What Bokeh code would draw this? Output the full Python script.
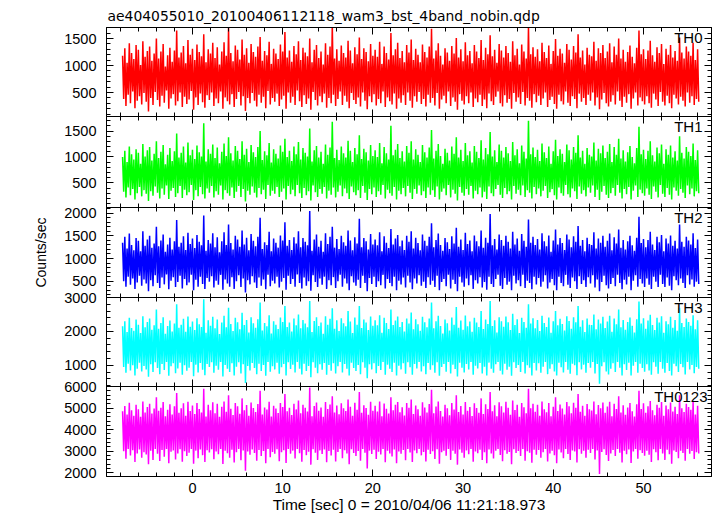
from bokeh.plotting import figure
from bokeh.layouts import column
from bokeh.models import LinearAxis, Label, Range1d, SingleIntervalTicker
from bokeh.embed import file_html
from bokeh.resources import INLINE

# ---------------- data ----------------
T_START = -7.75   # first bin time [sec]
BIN = 0.125       # bin width [sec]

title_text = "ae404055010_20100406112118_wam3_bst_4band_nobin.qdp"
x_label = "Time [sec] 0 = 2010/04/06 11:21:18.973"
y_label = "Counts/sec"
panel_names = ["TH0", "TH1", "TH2", "TH3", "TH0123"]

th0 = [
    1180, 380, 1320, 250, 1050, 460, 1410, 300, 1230, 520, 1120, 210, 1380, 350, 1290, 430,
    1010, 280, 1450, 490, 1160, 330, 1270, 150, 1350, 400, 1090, 270, 1220, 510, 1500, 360,
    1130, 240, 1260, 440, 1400, 310, 980, 540, 1190, 200, 1330, 390, 1070, 470, 1280, 260,
    1650, 340, 1150, 500, 1240, 230, 1360, 420, 1040, 290, 1470, 370, 1200, 530, 1310, 180,
    1100, 410, 1390, 270, 1250, 480, 1170, 320, 1580, 220, 1060, 450, 1300, 360, 1220, 500,
    1420, 250, 1140, 390, 1340, 300, 1020, 520, 1260, 200, 1430, 410, 1180, 340, 1700, 280,
    1230, 470, 1080, 230, 1370, 380, 1290, 510, 1110, 260, 1480, 430, 1200, 160, 1320, 400,
    1050, 300, 1400, 490, 1250, 350, 1160, 240, 1350, 460, 1530, 310, 1090, 420, 1270, 210,
    1190, 530, 1440, 280, 1030, 400, 1310, 330, 1220, 480, 1120, 250, 1390, 370, 1260, 440,
    1620, 200, 1150, 500, 1280, 310, 1070, 420, 1360, 270, 1210, 540, 1450, 340, 1100, 230,
    1330, 450, 1240, 290, 1170, 390, 1500, 180, 1060, 510, 1290, 360, 1380, 260, 1140, 430,
    1260, 320, 1020, 480, 1410, 220, 1200, 400, 1350, 300, 1750, 460, 1130, 250, 1300, 380,
    1090, 520, 1370, 270, 1230, 440, 1150, 330, 1460, 210, 1280, 490, 1040, 360, 1340, 290,
    1210, 410, 1520, 240, 1120, 500, 1320, 350, 1250, 190, 1080, 430, 1400, 320, 1180, 470,
    1290, 260, 1160, 380, 1440, 300, 1030, 520, 1350, 230, 1230, 410, 1110, 340, 1600, 280,
    1190, 480, 1300, 200, 1420, 390, 1140, 310, 1270, 450, 1060, 270, 1380, 500, 1240, 350,
    1480, 220, 1100, 430, 1310, 330, 1200, 510, 1060, 290, 1390, 380, 1250, 240, 1150, 460,
    1350, 310, 1680, 400, 1130, 260, 1280, 490, 1410, 200, 1180, 370, 1020, 440, 1320, 300,
    1240, 520, 1090, 250, 1360, 410, 1220, 330, 1510, 180, 1150, 470, 1300, 350, 1080, 280,
    1430, 430, 1190, 300, 1270, 500, 1040, 230, 1380, 390, 1260, 320, 1140, 460, 1470, 250,
    1100, 370, 1330, 210, 1210, 480, 1560, 340, 1170, 270, 1290, 420, 1050, 520, 1400, 300,
    1280, 240, 1150, 450, 1360, 310, 1230, 380, 1070, 200, 1450, 490, 1190, 330, 1310, 410,
    1020, 290, 1390, 510, 1260, 260, 1130, 400, 1720, 350, 1210, 220, 1340, 470, 1160, 320,
    1300, 440, 1080, 270, 1420, 390, 1250, 500, 1140, 230, 1370, 360, 1030, 420, 1270, 290,
    1490, 200, 1180, 460, 1310, 340, 1220, 280, 1050, 520, 1400, 310, 1290, 250, 1110, 430,
    1360, 380, 1240, 210, 1580, 480, 1150, 330, 1280, 400, 1020, 270, 1330, 460, 1200, 350,
    1170, 500, 1440, 260, 1090, 410, 1320, 190, 1230, 370, 1380, 490, 1140, 300, 1260, 240,
    1410, 330, 1060, 450, 1350, 280, 1200, 520, 1500, 350, 1130, 230, 1290, 420, 1070, 310,
    1250, 470, 1370, 200, 1160, 390, 1040, 500, 1330, 260, 1650, 410, 1210, 340, 1300, 280,
    1120, 430, 1280, 300, 1460, 220, 1190, 480, 1070, 370, 1340, 250, 1230, 510, 1400, 330,
    1030, 260, 1310, 440, 1200, 300, 1380, 210, 1150, 460, 1270, 390, 1090, 280, 1520, 420,
    1240, 350, 1130, 240, 1350, 500, 1260, 310, 1180, 430, 1420, 270, 1100, 380, 1300, 330,
]
th1 = [
    1000, 330, 1120, 220, 900, 410, 1200, 260, 1050, 380, 950, 180, 1150, 300, 1080, 420,
    870, 240, 1250, 360, 1010, 290, 1130, 150, 1190, 340, 930, 250, 1060, 430, 1300, 310,
    980, 200, 1100, 390, 1230, 270, 860, 450, 1040, 190, 1170, 350, 920, 400, 1110, 230,
    1450, 300, 990, 440, 1080, 210, 1200, 370, 890, 260, 1280, 320, 1030, 460, 1140, 170,
    960, 360, 1220, 240, 1090, 420, 1010, 280, 1650, 200, 910, 390, 1150, 310, 1060, 440,
    1240, 220, 980, 340, 1180, 270, 880, 450, 1100, 180, 1260, 360, 1020, 300, 1380, 250,
    1070, 410, 930, 210, 1210, 330, 1120, 440, 960, 230, 1300, 380, 1040, 140, 1160, 350,
    900, 270, 1230, 430, 1090, 310, 1000, 220, 1190, 400, 1500, 280, 940, 370, 1110, 190,
    1030, 460, 1270, 250, 890, 350, 1150, 290, 1060, 420, 970, 230, 1220, 330, 1100, 390,
    1350, 180, 1000, 440, 1120, 280, 920, 370, 1200, 240, 1050, 460, 1290, 300, 950, 210,
    1170, 400, 1080, 260, 1010, 340, 1550, 160, 910, 450, 1130, 320, 1210, 230, 990, 380,
    1100, 290, 870, 420, 1240, 200, 1040, 350, 1180, 270, 1680, 410, 980, 220, 1140, 330,
    940, 450, 1200, 240, 1070, 390, 990, 300, 1310, 190, 1120, 430, 900, 320, 1170, 260,
    1050, 360, 1420, 210, 960, 440, 1160, 310, 1090, 170, 930, 380, 1230, 280, 1020, 410,
    1130, 230, 1000, 340, 1270, 270, 880, 460, 1190, 200, 1070, 370, 950, 300, 1600, 250,
    1030, 420, 1140, 180, 1250, 350, 980, 280, 1110, 400, 910, 240, 1210, 440, 1080, 310,
    1300, 190, 950, 380, 1150, 290, 1040, 450, 900, 260, 1230, 340, 1090, 210, 990, 410,
    1180, 270, 1520, 360, 970, 230, 1120, 430, 1250, 180, 1020, 330, 870, 390, 1160, 260,
    1080, 460, 930, 220, 1200, 370, 1060, 290, 1380, 160, 990, 420, 1140, 310, 920, 250,
    1270, 380, 1030, 270, 1110, 440, 890, 200, 1210, 350, 1100, 280, 980, 410, 1320, 220,
    950, 330, 1170, 190, 1050, 430, 1480, 300, 1010, 240, 1130, 380, 900, 460, 1240, 270,
    1120, 210, 990, 400, 1190, 280, 1070, 340, 920, 180, 1290, 440, 1030, 290, 1150, 370,
    880, 260, 1220, 450, 1100, 230, 970, 360, 1700, 310, 1050, 200, 1180, 420, 1000, 280,
    1140, 390, 920, 240, 1260, 350, 1090, 440, 980, 210, 1200, 320, 870, 380, 1110, 260,
    1330, 180, 1020, 410, 1150, 300, 1060, 250, 900, 460, 1240, 280, 1130, 220, 950, 390,
    1190, 340, 1080, 190, 1420, 430, 990, 290, 1120, 360, 870, 240, 1170, 410, 1040, 310,
    1010, 450, 1280, 230, 930, 370, 1160, 170, 1070, 330, 1220, 440, 980, 270, 1100, 210,
    1250, 300, 900, 400, 1190, 250, 1040, 460, 1350, 310, 970, 200, 1130, 380, 910, 280,
    1090, 420, 1210, 180, 1000, 350, 880, 450, 1170, 230, 1580, 370, 1050, 300, 1140, 250,
    960, 390, 1120, 270, 1300, 190, 1030, 430, 910, 330, 1180, 220, 1070, 460, 1240, 290,
    870, 230, 1150, 400, 1040, 270, 1220, 180, 990, 410, 1110, 350, 930, 250, 1400, 380,
    1080, 310, 970, 210, 1190, 450, 1100, 280, 1020, 390, 1260, 240, 940, 340, 1130, 300,
]
th2 = [
    1350, 500, 1480, 380, 1220, 600, 1550, 420, 1300, 560, 1180, 330, 1450, 470, 1390, 620,
    1160, 400, 1600, 540, 1280, 450, 1420, 280, 1500, 520, 1240, 390, 1330, 630, 1700, 460,
    1270, 350, 1400, 580, 1530, 430, 1150, 650, 1310, 320, 1460, 510, 1200, 590, 1380, 370,
    1850, 480, 1260, 620, 1350, 340, 1490, 550, 1190, 410, 1570, 470, 1320, 640, 1440, 300,
    1230, 530, 1520, 380, 1370, 600, 1290, 440, 1950, 330, 1170, 570, 1410, 490, 1330, 610,
    1560, 360, 1250, 510, 1470, 420, 1140, 640, 1380, 310, 1580, 540, 1300, 450, 1750, 380,
    1340, 590, 1200, 330, 1500, 500, 1420, 630, 1260, 370, 1620, 560, 1310, 250, 1460, 520,
    1180, 430, 1540, 610, 1390, 470, 1270, 350, 1480, 580, 1900, 400, 1210, 540, 1360, 320,
    1300, 640, 1590, 390, 1160, 510, 1440, 450, 1350, 600, 1240, 360, 1510, 490, 1400, 570,
    1800, 310, 1280, 620, 1410, 440, 1190, 550, 1470, 380, 1330, 650, 1600, 460, 1250, 340,
    1450, 580, 1370, 400, 1290, 500, 2050, 290, 1170, 630, 1420, 480, 1530, 370, 1260, 560,
    1390, 420, 1150, 600, 1560, 330, 1320, 520, 1480, 410, 1700, 590, 1240, 350, 1430, 500,
    1210, 640, 1500, 380, 1360, 560, 1280, 450, 1620, 300, 1400, 610, 1180, 470, 1470, 400,
    1330, 530, 1880, 350, 1250, 620, 1450, 460, 1380, 280, 1200, 570, 1540, 440, 1310, 600,
    1420, 370, 1290, 500, 1580, 410, 1160, 640, 1490, 340, 1350, 550, 1230, 460, 1650, 390,
    1310, 600, 1440, 300, 1520, 510, 1270, 430, 1400, 580, 1190, 360, 1500, 620, 1370, 470,
    1600, 320, 1220, 560, 1460, 450, 1340, 630, 1180, 400, 1530, 490, 1390, 350, 1280, 590,
    1480, 420, 1780, 510, 1250, 370, 1410, 620, 1550, 300, 1300, 480, 1170, 550, 1450, 390,
    1360, 640, 1210, 340, 1490, 530, 1330, 440, 1680, 280, 1260, 600, 1420, 470, 1190, 380,
    1570, 560, 1320, 410, 1400, 630, 1160, 330, 1510, 520, 1380, 450, 1270, 590, 1620, 360,
    1240, 480, 1460, 310, 1350, 600, 1980, 440, 1290, 370, 1430, 550, 1200, 640, 1530, 400,
    1410, 330, 1280, 570, 1500, 420, 1370, 490, 1220, 300, 1590, 620, 1310, 450, 1440, 520,
    1170, 390, 1540, 640, 1390, 350, 1260, 510, 1860, 460, 1350, 320, 1480, 600, 1300, 430,
    1430, 570, 1200, 380, 1560, 490, 1380, 630, 1270, 340, 1510, 470, 1150, 550, 1400, 410,
    1640, 300, 1310, 600, 1450, 460, 1340, 390, 1190, 640, 1530, 420, 1420, 350, 1250, 580,
    1490, 500, 1370, 330, 1720, 610, 1280, 440, 1410, 520, 1160, 370, 1460, 590, 1320, 450,
    1300, 630, 1580, 360, 1220, 540, 1440, 280, 1350, 480, 1500, 620, 1260, 410, 1390, 340,
    1550, 440, 1180, 570, 1470, 390, 1330, 640, 1640, 460, 1240, 320, 1410, 530, 1200, 430,
    1380, 600, 1500, 300, 1290, 510, 1170, 630, 1460, 380, 1920, 550, 1340, 450, 1430, 370,
    1250, 560, 1410, 420, 1590, 330, 1310, 600, 1190, 490, 1480, 370, 1360, 640, 1520, 440,
    1160, 370, 1440, 580, 1330, 400, 1510, 300, 1280, 610, 1390, 520, 1220, 410, 1750, 560,
    1370, 460, 1260, 350, 1480, 630, 1400, 430, 1310, 540, 1560, 380, 1230, 490, 1420, 440,
]
th3 = [
    2150, 950, 2300, 780, 1980, 1050, 2400, 850, 2100, 1000, 2020, 700, 2350, 900, 2200, 1080,
    1950, 820, 2450, 980, 2120, 880, 2280, 660, 2380, 1030, 2050, 800, 2180, 1090, 2650, 920,
    2080, 740, 2250, 1040, 2420, 860, 1930, 1100, 2160, 690, 2320, 970, 2000, 1060, 2230, 770,
    2800, 910, 2110, 1080, 2200, 720, 2370, 1000, 1990, 840, 2440, 930, 2140, 1100, 2290, 680,
    2040, 1020, 2390, 790, 2210, 1070, 2130, 870, 2950, 710, 1960, 1040, 2330, 950, 2170, 1090,
    2430, 780, 2090, 990, 2350, 870, 1920, 1100, 2260, 670, 2460, 1010, 2120, 900, 2700, 800,
    2220, 1060, 2010, 700, 2400, 960, 2270, 1090, 2060, 760, 2550, 1030, 2190, 480, 2340, 980,
    1970, 850, 2420, 1070, 2240, 920, 2110, 740, 2360, 1050, 2850, 830, 2030, 1010, 2250, 690,
    2150, 1100, 2480, 810, 1940, 970, 2300, 880, 2200, 1080, 2070, 750, 2410, 940, 2280, 1040,
    2750, 700, 2130, 1090, 2260, 890, 2000, 1020, 2380, 790, 2180, 1100, 2500, 900, 2090, 730,
    2340, 1050, 2230, 830, 2120, 980, 2900, 650, 1980, 1090, 2310, 930, 2420, 770, 2160, 1030,
    2260, 870, 1930, 1070, 2450, 720, 2200, 1010, 2370, 840, 2680, 1060, 2080, 760, 2330, 970,
    2010, 1100, 2390, 790, 2240, 1040, 2150, 900, 2600, 700, 2290, 1080, 1950, 920, 2410, 830,
    2200, 1010, 2750, 740, 2100, 1090, 2350, 930, 2260, 620, 2040, 1030, 2440, 880, 2170, 1060,
    2330, 770, 2180, 980, 2480, 860, 1960, 1100, 2400, 720, 2250, 1020, 2070, 900, 2650, 800,
    2190, 1080, 2320, 700, 2440, 990, 2130, 880, 2280, 1060, 2000, 750, 2380, 1090, 2230, 940,
    2560, 720, 2060, 1040, 2360, 910, 2210, 1100, 2020, 820, 2430, 970, 2270, 740, 2120, 1070,
    2380, 870, 2850, 1000, 2090, 780, 2300, 1090, 2460, 690, 2160, 950, 1940, 1040, 2350, 810,
    2240, 1100, 2030, 760, 2410, 1020, 2200, 890, 2720, 670, 2110, 1080, 2320, 930, 2050, 790,
    2470, 1040, 2150, 880, 2290, 1100, 1990, 720, 2400, 990, 2260, 910, 2130, 1070, 2600, 760,
    2070, 960, 2350, 700, 2220, 1080, 2900, 900, 2160, 780, 2330, 1030, 1970, 1100, 2420, 840,
    2300, 730, 2140, 1050, 2440, 870, 2270, 960, 2040, 690, 2520, 1090, 2190, 920, 2360, 1010,
    1950, 800, 2400, 1100, 2280, 760, 2110, 1000, 2800, 930, 2230, 700, 2390, 1070, 2090, 850,
    2340, 1060, 2010, 780, 2460, 960, 2250, 1100, 2130, 740, 2410, 900, 1960, 1030, 2300, 820,
    2600, 700, 2180, 1080, 2370, 940, 2220, 790, 2030, 1100, 2450, 870, 2310, 750, 2080, 1050,
    2420, 1000, 2270, 710, 2750, 1090, 2140, 880, 2330, 1020, 1980, 780, 2380, 1070, 2200, 930,
    2190, 1100, 2500, 760, 2060, 1040, 2350, 460, 2230, 970, 2430, 1090, 2100, 820, 2290, 730,
    2460, 900, 1990, 1060, 2380, 800, 2210, 1100, 2650, 930, 2120, 700, 2340, 1030, 2050, 860,
    2280, 1080, 2410, 700, 2170, 990, 1970, 1100, 2360, 780, 2880, 1050, 2230, 920, 2390, 810,
    2080, 1030, 2320, 850, 2490, 720, 2190, 1090, 2040, 960, 2400, 750, 2260, 1100, 2450, 900,
    1960, 780, 2300, 1070, 2210, 830, 2430, 700, 2110, 1050, 2340, 970, 2020, 800, 2700, 1040,
    2250, 940, 2130, 730, 2380, 1100, 2280, 880, 2170, 1010, 2480, 770, 2060, 950, 2330, 900,
]
th0123 = [
    4850, 3000, 5100, 2650, 4700, 3100, 5250, 2800, 4900, 3050, 4650, 2500, 5150, 2900, 4950, 3080,
    4600, 2700, 5300, 2950, 4800, 2850, 5050, 2400, 5200, 3020, 4750, 2600, 4980, 3100, 5500, 2880,
    4880, 2550, 5020, 3060, 5280, 2750, 4620, 3100, 4920, 2450, 5180, 2980, 4700, 3040, 5080, 2620,
    5700, 2900, 4780, 3090, 4990, 2520, 5220, 3000, 4640, 2780, 5290, 2930, 4860, 3100, 5120, 2420,
    4720, 3030, 5240, 2680, 4960, 3080, 4800, 2820, 5900, 2500, 4610, 3050, 5160, 2940, 4900, 3090,
    5270, 2630, 4760, 2990, 5200, 2860, 4600, 3100, 5060, 2410, 5300, 3020, 4830, 2910, 5600, 2700,
    4970, 3070, 4680, 2480, 5230, 2960, 5080, 3100, 4740, 2580, 5450, 3040, 4900, 2100, 5140, 2990,
    4650, 2840, 5260, 3080, 5000, 2920, 4820, 2560, 5190, 3060, 5800, 2780, 4700, 3010, 5030, 2450,
    4930, 3100, 5290, 2720, 4610, 2970, 5110, 2880, 4980, 3090, 4770, 2540, 5230, 2950, 5050, 3050,
    5650, 2460, 4850, 3100, 5020, 2890, 4680, 3030, 5200, 2660, 4940, 3100, 5350, 2910, 4760, 2510,
    5150, 3060, 5010, 2820, 4840, 2980, 5950, 2380, 4620, 3090, 5100, 2930, 5260, 2600, 4880, 3040,
    5030, 2870, 4600, 3080, 5280, 2490, 4960, 3010, 5170, 2800, 5550, 3070, 4790, 2530, 5120, 2970,
    4710, 3100, 5220, 2680, 4990, 3050, 4860, 2900, 5400, 2400, 5060, 3090, 4640, 2920, 5250, 2780,
    4920, 3010, 5750, 2560, 4780, 3100, 5130, 2930, 5000, 2200, 4690, 3030, 5290, 2870, 4880, 3070,
    5110, 2640, 4840, 2980, 5300, 2850, 4620, 3100, 5210, 2490, 4970, 3020, 4750, 2900, 5500, 2760,
    4900, 3080, 5150, 2450, 5280, 2990, 4810, 2880, 5040, 3060, 4660, 2580, 5230, 3100, 5010, 2940,
    5400, 2500, 4720, 3040, 5120, 2910, 4950, 3100, 4640, 2810, 5270, 2970, 5030, 2530, 4800, 3070,
    5190, 2870, 5850, 3000, 4760, 2640, 5070, 3090, 5300, 2420, 4870, 2950, 4610, 3030, 5160, 2790,
    4990, 3100, 4670, 2600, 5240, 3020, 4930, 2890, 5600, 2380, 4820, 3080, 5100, 2930, 4700, 2700,
    5280, 3040, 4880, 2860, 5050, 3100, 4630, 2520, 5220, 2990, 5000, 2910, 4780, 3070, 5450, 2590,
    4730, 2960, 5180, 2450, 4960, 3080, 5750, 2900, 4850, 2660, 5130, 3030, 4620, 3100, 5270, 2830,
    5080, 2540, 4800, 3050, 5290, 2880, 5010, 2970, 4690, 2400, 5350, 3090, 4910, 2920, 5150, 3010,
    4600, 2780, 5230, 3100, 5040, 2560, 4760, 3000, 5900, 2930, 4990, 2470, 5200, 3070, 4830, 2840,
    5160, 3060, 4650, 2700, 5300, 2960, 4950, 3100, 4810, 2530, 5240, 2900, 4620, 3030, 5060, 2810,
    5500, 2440, 4870, 3080, 5170, 2940, 4980, 2680, 4700, 3100, 5280, 2870, 5090, 2590, 4760, 3040,
    5250, 2990, 5020, 2480, 5650, 3090, 4830, 2880, 5110, 3020, 4640, 2700, 5190, 3070, 4940, 2920,
    4890, 3100, 5300, 2620, 4710, 3040, 5140, 1950, 4990, 2970, 5260, 3090, 4780, 2830, 5070, 2550,
    5290, 2900, 4620, 3060, 5200, 2780, 4960, 3100, 5550, 2930, 4800, 2480, 5130, 3030, 4690, 2860,
    5030, 3080, 5240, 2460, 4850, 2990, 4610, 3100, 5180, 2650, 5800, 3050, 4960, 2920, 5220, 2790,
    4780, 3030, 5090, 2840, 5330, 2500, 4900, 3090, 4670, 2960, 5150, 2580, 5010, 3100, 5280, 2900,
    4640, 2600, 5120, 3070, 4950, 2860, 5260, 2420, 4840, 3040, 5060, 2970, 4730, 2680, 5600, 3020,
    4990, 2920, 4820, 2560, 5200, 3100, 5050, 2880, 4920, 3010, 5290, 2640, 4700, 2950, 5110, 2900,
]
series = [th0, th1, th2, th3, th0123]
colors = ["#ff0000", "#00ff00", "#0000ff", "#00ffff", "#ff00ff"]
y_limits = [(56, 1704), (25, 1780), (140, 2126), (375, 3001), (1830, 6001)]
y_tick_step = [500, 500, 500, 1000, 1000]
x_limits = (-9.53, 57.54)
x_tick_step = 10

# ---------------- style ----------------
FONT = "Liberation Sans"
TITLE_FONT = "DejaVu Sans"
frame_heights = [89, 91, 90, 89, 90]
label_x = [56.54, 56.54, 56.54, 56.54, 57.1]
OV = 10  # overlap border between stacked panels


def style_axis(ax, show_labels, standoff, size="14.5px"):
    ax.axis_line_color = "black"
    ax.axis_line_width = 1
    ax.major_tick_in = 7
    ax.major_tick_out = 0
    ax.minor_tick_in = 4
    ax.minor_tick_out = 0
    ax.major_tick_line_color = "black"
    ax.minor_tick_line_color = "black"
    if show_labels:
        ax.major_label_text_font = FONT
        ax.major_label_text_font_size = size
        ax.major_label_text_color = "black"
        ax.major_label_standoff = standoff
    else:
        ax.major_label_text_font_size = "0px"
        ax.major_label_text_color = None
        ax.major_label_standoff = 0


figs = []
n = len(series)
for i in range(n):
    vals = series[i]
    t = [T_START + BIN * k for k in range(len(vals))]
    lo, hi = y_limits[i]
    first = i == 0
    last = i == n - 1
    p = figure(
        x_range=Range1d(*x_limits), y_range=Range1d(lo, hi),
        frame_width=605, frame_height=frame_heights[i],
        x_axis_location=None, y_axis_location=None,
        min_border_left=106, min_border_right=6,
        min_border_top=27 if first else OV,
        min_border_bottom=0 if last else OV,
        output_backend="svg", toolbar_location=None,
        background_fill_color="white", border_fill_alpha=0,
    )
    if not first:
        p.margin = (-2 * OV, 0, 0, 0)
    p.grid.visible = False
    p.outline_line_color = "black"
    xt = SingleIntervalTicker(interval=x_tick_step, num_minor_ticks=5)
    yt = SingleIntervalTicker(interval=y_tick_step[i], num_minor_ticks=5)

    bottom = LinearAxis(ticker=xt)
    style_axis(bottom, last, 6)
    top = LinearAxis(ticker=xt)
    style_axis(top, False, 0)
    left = LinearAxis(ticker=yt)
    style_axis(left, True, 10)
    right = LinearAxis(ticker=yt)
    style_axis(right, False, 0)

    if i == 2:
        left.axis_label = y_label
        left.axis_label_text_font = FONT
        left.axis_label_text_font_size = "14px"
        left.axis_label_text_font_style = "normal"
        left.axis_label_text_color = "black"
        left.axis_label_standoff = 12
    if last:
        bottom.axis_label = x_label
        bottom.axis_label_text_font = FONT
        bottom.axis_label_text_font_size = "15.5px"
        bottom.axis_label_text_font_style = "normal"
        bottom.axis_label_text_color = "black"
        bottom.axis_label_standoff = 0

    p.add_layout(bottom, "below")
    p.add_layout(top, "above")
    p.add_layout(left, "left")
    p.add_layout(right, "right")

    if first:
        p.title.text = title_text
        p.title.text_font = TITLE_FONT
        p.title.text_font_size = "13.9px"
        p.title.text_font_style = "normal"
        p.title.text_color = "black"
        p.title.align = "left"
        p.title.offset = 1
        p.title.standoff = 8

    p.line(t, vals, line_color=colors[i], line_width=1.5)

    y_lab = hi - (hi - lo) * 1.0 / frame_heights[i]
    p.add_layout(Label(x=label_x[i], y=y_lab, text=panel_names[i],
                       text_align="right", text_baseline="top",
                       text_font=FONT, text_font_size="15px", text_color="black"))
    figs.append(p)

layout = column(*figs, spacing=0)
open("out.html", "w").write(file_html(layout, INLINE))
